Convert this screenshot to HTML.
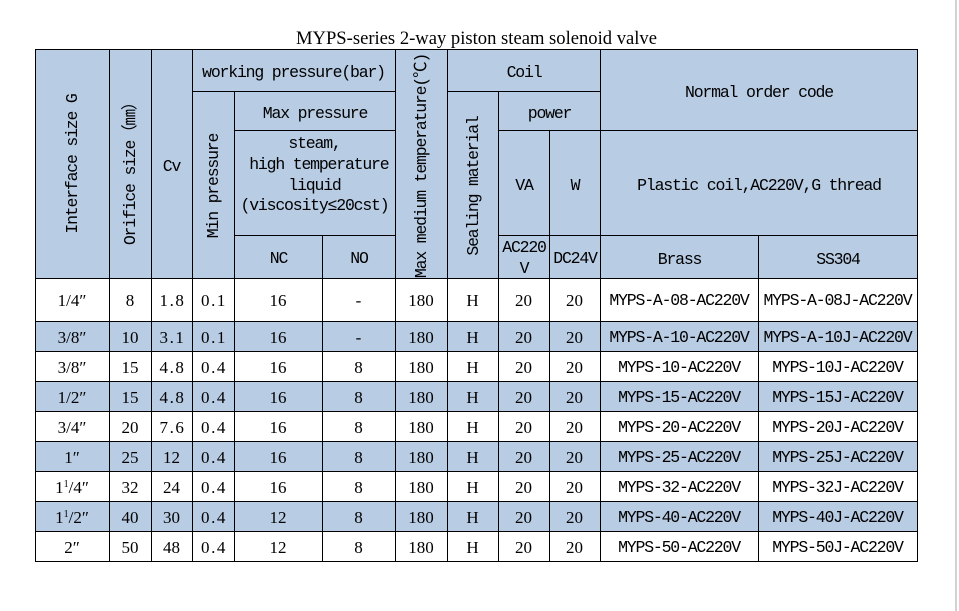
<!DOCTYPE html>
<html>
<head>
<meta charset="utf-8">
<style>
  html,body{margin:0;padding:0;background:#fff;}
  body{width:959px;height:611px;position:relative;overflow:hidden;
       font-family:"Liberation Mono","Noto Sans CJK SC",monospace;color:#000;}
  .fill{position:absolute;background:#b8cce4;}
  .h{position:absolute;height:1px;background:#000;}
  .v{position:absolute;width:1px;background:#000;}
  .t{position:absolute;transform:translate(-50%,-50%);white-space:nowrap;
     font-size:16.5px;line-height:16px;letter-spacing:-1.2px;}
  .rv{position:absolute;transform:translate(-50%,-50%) rotate(-90deg);white-space:nowrap;
     font-size:16.5px;line-height:16px;letter-spacing:-1.2px;}
  .r{position:absolute;left:0;width:959px;height:0;}
  .r div{position:absolute;top:0;transform:translate(-50%,-50%);white-space:nowrap;
     font-family:"Liberation Serif","DejaVu Serif",serif;font-size:17px;line-height:16px;}
  .r div.c{font-family:"Liberation Mono",monospace;font-size:16.5px;letter-spacing:-1.2px;}
  .r div.d{letter-spacing:1.6px;}
  .title{position:absolute;left:0;width:953px;top:29px;text-align:center;
     font-family:"Liberation Serif",serif;font-size:18.6px;line-height:20px;}
  sup{font-size:10px;vertical-align:0;position:relative;top:-6px;line-height:0;}
</style>
</head>
<body>
<div class="title">MYPS-series 2-way piston steam solenoid valve</div>

<!-- fills -->
<div class="fill" style="left:35px;top:49px;width:883px;height:229px;"></div>
<div class="fill" style="left:35px;top:321px;width:883px;height:30px;"></div>
<div class="fill" style="left:35px;top:381px;width:883px;height:30px;"></div>
<div class="fill" style="left:35px;top:441px;width:883px;height:30px;"></div>
<div class="fill" style="left:35px;top:501px;width:883px;height:30px;"></div>

<!-- right gray strip -->
<div style="position:absolute;left:955px;top:0;width:2px;height:611px;background:#d2d2d2;"></div>

<!-- horizontal lines -->
<div class="h" style="left:35px;top:49px;width:883px;"></div>
<div class="h" style="left:192px;top:91px;width:204px;"></div>
<div class="h" style="left:447px;top:91px;width:154px;"></div>
<div class="h" style="left:234px;top:130px;width:162px;"></div>
<div class="h" style="left:498px;top:130px;width:420px;"></div>
<div class="h" style="left:234px;top:235px;width:162px;"></div>
<div class="h" style="left:498px;top:235px;width:420px;"></div>
<div class="h" style="left:35px;top:278px;width:883px;"></div>
<div class="h" style="left:35px;top:321px;width:883px;"></div>
<div class="h" style="left:35px;top:351px;width:883px;"></div>
<div class="h" style="left:35px;top:381px;width:883px;"></div>
<div class="h" style="left:35px;top:411px;width:883px;"></div>
<div class="h" style="left:35px;top:441px;width:883px;"></div>
<div class="h" style="left:35px;top:471px;width:883px;"></div>
<div class="h" style="left:35px;top:501px;width:883px;"></div>
<div class="h" style="left:35px;top:531px;width:883px;"></div>
<div class="h" style="left:35px;top:561px;width:883px;"></div>

<!-- vertical lines -->
<div class="v" style="left:35px;top:49px;height:513px;"></div>
<div class="v" style="left:109px;top:49px;height:513px;"></div>
<div class="v" style="left:151px;top:49px;height:513px;"></div>
<div class="v" style="left:192px;top:49px;height:513px;"></div>
<div class="v" style="left:234px;top:91px;height:471px;"></div>
<div class="v" style="left:322px;top:235px;height:327px;"></div>
<div class="v" style="left:395px;top:49px;height:513px;"></div>
<div class="v" style="left:447px;top:49px;height:513px;"></div>
<div class="v" style="left:498px;top:91px;height:471px;"></div>
<div class="v" style="left:549px;top:130px;height:432px;"></div>
<div class="v" style="left:600px;top:49px;height:513px;"></div>
<div class="v" style="left:758px;top:235px;height:327px;"></div>
<div class="v" style="left:917px;top:49px;height:513px;"></div>

<!-- header texts -->
<div class="rv" style="left:73px;top:164px;">Interface size G</div>
<div class="rv" style="left:131px;top:169.5px;">Orifice size（㎜）</div>
<div class="t" style="left:171.5px;top:167px;">Cv</div>
<div class="rv" style="left:214px;top:185.5px;">Min pressure</div>
<div class="rv" style="left:422px;top:166px;">Max medium temperature(℃)</div>
<div class="rv" style="left:474px;top:186px;">Sealing material</div>

<div class="t" style="left:293.5px;top:73px;">working pressure(bar)</div>
<div class="t" style="left:315px;top:113.7px;">Max pressure</div>
<div class="t" style="left:314.5px;top:144.3px;">steam,</div>
<div class="t" style="left:314.5px;top:165px;">&nbsp;high temperature</div>
<div class="t" style="left:314.5px;top:185.7px;">liquid</div>
<div class="t" style="left:314.5px;top:206px;">(viscosity≤20cst)</div>
<div class="t" style="left:278.5px;top:259px;">NC</div>
<div class="t" style="left:359px;top:259px;">NO</div>

<div class="t" style="left:524px;top:72.7px;">Coil</div>
<div class="t" style="left:549.5px;top:114.3px;">power</div>
<div class="t" style="left:524px;top:186px;">VA</div>
<div class="t" style="left:575px;top:186px;">W</div>
<div class="t" style="left:524px;top:248.3px;">AC220</div>
<div class="t" style="left:524px;top:268.7px;">V</div>
<div class="t" style="left:575px;top:259.3px;">DC24V</div>

<div class="t" style="left:759px;top:92.7px;">Normal order code</div>
<div class="t" style="left:759px;top:186px;">Plastic coil,AC220V,G thread</div>
<div class="t" style="left:679.5px;top:260px;">Brass</div>
<div class="t" style="left:838px;top:260px;">SS304</div>

<!-- data rows -->
<div class="r" style="top:301px;">
  <div style="left:72px;">1/4″</div><div style="left:130px;">8</div><div class="d" style="left:172.5px;">1.8</div><div class="d" style="left:214px;">0.1</div>
  <div style="left:278px;">16</div><div style="left:358.5px;">-</div><div style="left:421px;">180</div><div style="left:472.5px;">H</div>
  <div style="left:523.5px;">20</div><div style="left:574.5px;">20</div><div class="c" style="left:679px;">MYPS-A-08-AC220V</div><div class="c" style="left:837.5px;">MYPS-A-08J-AC220V</div>
</div>
<div class="r" style="top:338px;">
  <div style="left:72px;">3/8″</div><div style="left:130px;">10</div><div class="d" style="left:172.5px;">3.1</div><div class="d" style="left:214px;">0.1</div>
  <div style="left:278px;">16</div><div style="left:358.5px;">-</div><div style="left:421px;">180</div><div style="left:472.5px;">H</div>
  <div style="left:523.5px;">20</div><div style="left:574.5px;">20</div><div class="c" style="left:679px;">MYPS-A-10-AC220V</div><div class="c" style="left:837.5px;">MYPS-A-10J-AC220V</div>
</div>
<div class="r" style="top:368px;">
  <div style="left:72px;">3/8″</div><div style="left:130px;">15</div><div class="d" style="left:172.5px;">4.8</div><div class="d" style="left:214px;">0.4</div>
  <div style="left:278px;">16</div><div style="left:358.5px;">8</div><div style="left:421px;">180</div><div style="left:472.5px;">H</div>
  <div style="left:523.5px;">20</div><div style="left:574.5px;">20</div><div class="c" style="left:679px;">MYPS-10-AC220V</div><div class="c" style="left:837.5px;">MYPS-10J-AC220V</div>
</div>
<div class="r" style="top:398px;">
  <div style="left:72px;">1/2″</div><div style="left:130px;">15</div><div class="d" style="left:172.5px;">4.8</div><div class="d" style="left:214px;">0.4</div>
  <div style="left:278px;">16</div><div style="left:358.5px;">8</div><div style="left:421px;">180</div><div style="left:472.5px;">H</div>
  <div style="left:523.5px;">20</div><div style="left:574.5px;">20</div><div class="c" style="left:679px;">MYPS-15-AC220V</div><div class="c" style="left:837.5px;">MYPS-15J-AC220V</div>
</div>
<div class="r" style="top:428px;">
  <div style="left:72px;">3/4″</div><div style="left:130px;">20</div><div class="d" style="left:172.5px;">7.6</div><div class="d" style="left:214px;">0.4</div>
  <div style="left:278px;">16</div><div style="left:358.5px;">8</div><div style="left:421px;">180</div><div style="left:472.5px;">H</div>
  <div style="left:523.5px;">20</div><div style="left:574.5px;">20</div><div class="c" style="left:679px;">MYPS-20-AC220V</div><div class="c" style="left:837.5px;">MYPS-20J-AC220V</div>
</div>
<div class="r" style="top:458px;">
  <div style="left:72px;">1″</div><div style="left:130px;">25</div><div style="left:171.5px;">12</div><div class="d" style="left:214px;">0.4</div>
  <div style="left:278px;">16</div><div style="left:358.5px;">8</div><div style="left:421px;">180</div><div style="left:472.5px;">H</div>
  <div style="left:523.5px;">20</div><div style="left:574.5px;">20</div><div class="c" style="left:679px;">MYPS-25-AC220V</div><div class="c" style="left:837.5px;">MYPS-25J-AC220V</div>
</div>
<div class="r" style="top:488px;">
  <div style="left:72px;">1<sup>1</sup>/4″</div><div style="left:130px;">32</div><div style="left:171.5px;">24</div><div class="d" style="left:214px;">0.4</div>
  <div style="left:278px;">16</div><div style="left:358.5px;">8</div><div style="left:421px;">180</div><div style="left:472.5px;">H</div>
  <div style="left:523.5px;">20</div><div style="left:574.5px;">20</div><div class="c" style="left:679px;">MYPS-32-AC220V</div><div class="c" style="left:837.5px;">MYPS-32J-AC220V</div>
</div>
<div class="r" style="top:518px;">
  <div style="left:72px;">1<sup>1</sup>/2″</div><div style="left:130px;">40</div><div style="left:171.5px;">30</div><div class="d" style="left:214px;">0.4</div>
  <div style="left:278px;">12</div><div style="left:358.5px;">8</div><div style="left:421px;">180</div><div style="left:472.5px;">H</div>
  <div style="left:523.5px;">20</div><div style="left:574.5px;">20</div><div class="c" style="left:679px;">MYPS-40-AC220V</div><div class="c" style="left:837.5px;">MYPS-40J-AC220V</div>
</div>
<div class="r" style="top:548px;">
  <div style="left:72px;">2″</div><div style="left:130px;">50</div><div style="left:171.5px;">48</div><div class="d" style="left:214px;">0.4</div>
  <div style="left:278px;">12</div><div style="left:358.5px;">8</div><div style="left:421px;">180</div><div style="left:472.5px;">H</div>
  <div style="left:523.5px;">20</div><div style="left:574.5px;">20</div><div class="c" style="left:679px;">MYPS-50-AC220V</div><div class="c" style="left:837.5px;">MYPS-50J-AC220V</div>
</div>
</body>
</html>
